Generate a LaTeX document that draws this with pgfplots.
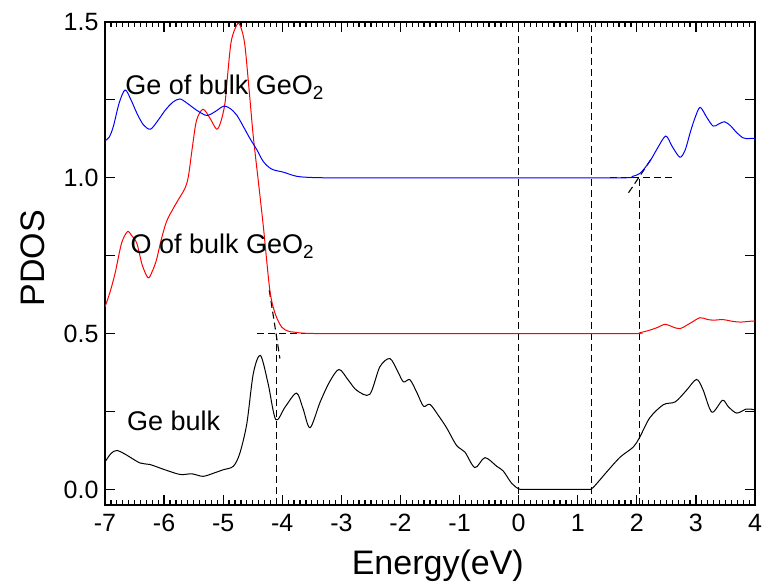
\documentclass[border=0pt]{standalone}
\usepackage{fontspec}
\setmainfont{Liberation Sans}
\usepackage{pgfplots}
\pgfplotsset{compat=1.18}
\begin{document}
\begin{tikzpicture}[x=1pt,y=1pt]
\path[use as bounding box] (0,0) rectangle (763,583);
\begin{axis}[
 at={(105pt,78pt)}, anchor=south west,
 scale only axis, width=650pt, height=483pt,
 xmin=-7, xmax=4, ymin=-0.05, ymax=1.5,
 xtick={-7,-6,-5,-4,-3,-2,-1,0,1,2,3,4},
 xticklabels={-7,-6,-5,-4,-3,-2,-1,0,1,2,3,4},
 minor x tick num=9,
 ytick={0,0.5,1,1.5}, yticklabels={0.0,0.5,1.0,1.5},
 extra y ticks={0.25,0.75,1.25}, extra y tick labels={},
 tick align=inside, major tick length=10pt, minor tick length=5pt,
 axis line style={line width=1.6pt},
 every tick/.style={black, line width=1.2pt},
 /pgf/number format/assume math mode=true,
 tick label style={font=\fontsize{25}{28}\selectfont},
 xticklabel style={yshift=-6pt},
 yticklabel style={xshift=-3pt},
 xlabel={Energy(eV)}, ylabel={PDOS},
 xlabel style={at={(axis description cs:0.512,-0.126)}, anchor=center, font=\fontsize{34}{40}\selectfont},
 ylabel style={at={(axis description cs:-0.111,0.511)}, anchor=center, font=\fontsize{34}{40}\selectfont},
]
% dashed guide lines
\addplot[black, line width=1.1pt, dash pattern=on 7pt off 4pt] coordinates {(0,-0.05) (0,1.5)};
\addplot[black, line width=1.1pt, dash pattern=on 7pt off 4pt] coordinates {(1.24,-0.05) (1.24,1.5)};
\addplot[black, line width=1.1pt, dash pattern=on 7pt off 4pt] coordinates {(-4.10,-0.05) (-4.10,0.5)};
\addplot[black, line width=1.1pt, dash pattern=on 7pt off 4pt] coordinates {(-4.43,0.5) (-3.36,0.5)};
\addplot[black, line width=1.1pt, dash pattern=on 7pt off 4pt] coordinates {(-4.22,0.64) (-4.04,0.42)};
\addplot[black, line width=1.1pt, dash pattern=on 7pt off 4pt] coordinates {(2.05,-0.05) (2.05,1.0)};
\addplot[black, line width=1.1pt, dash pattern=on 7pt off 4pt] coordinates {(1.55,1.0) (2.59,1.0)};
\addplot[black, line width=1.1pt, dash pattern=on 7pt off 4pt] coordinates {(1.86,0.952) (2.25,1.062)};
% Ge bulk
\addplot[black, line width=1pt, smooth, tension=0.5] coordinates {
(-7.00,0.088) (-6.90,0.115) (-6.80,0.125) (-6.65,0.112) (-6.41,0.085) (-6.24,0.080) (-6.00,0.064) (-5.73,0.048) (-5.53,0.050) (-5.34,0.042) (-5.15,0.053) (-5.00,0.063) (-4.83,0.074) (-4.72,0.115) (-4.60,0.211) (-4.49,0.372) (-4.37,0.430) (-4.24,0.34) (-4.11,0.224) (-3.95,0.265) (-3.76,0.309) (-3.65,0.26) (-3.53,0.198) (-3.36,0.28) (-3.20,0.345) (-3.04,0.385) (-2.88,0.350) (-2.74,0.318) (-2.52,0.305) (-2.35,0.393) (-2.18,0.42) (-2.05,0.38) (-1.95,0.345) (-1.84,0.352) (-1.72,0.31) (-1.61,0.267) (-1.50,0.273) (-1.35,0.235) (-1.22,0.198) (-1.05,0.141) (-0.91,0.120) (-0.74,0.070) (-0.57,0.102) (-0.37,0.074) (-0.26,0.059) (-0.12,0.020) (0.0,0.002) (0.1,0) (0.6,0) (1.15,0) (1.24,0.003) (1.35,0.025) (1.49,0.056) (1.72,0.104) (1.94,0.136) (2.05,0.168) (2.22,0.230) (2.45,0.272) (2.65,0.281) (2.84,0.318) (3.01,0.353) (3.12,0.32) (3.27,0.248) (3.45,0.286) (3.55,0.265) (3.69,0.245) (3.85,0.258) (3.92,0.258) (4.0,0.255)};
% O of bulk GeO2
\addplot[red, line width=1pt, smooth, tension=0.5] coordinates {
(-7.00,0.586) (-6.92,0.63) (-6.83,0.693) (-6.72,0.79) (-6.62,0.827) (-6.55,0.815) (-6.46,0.789) (-6.37,0.72) (-6.27,0.679) (-6.20,0.70) (-6.13,0.736) (-6.05,0.80) (-5.96,0.859) (-5.85,0.90) (-5.73,0.939) (-5.65,0.965) (-5.59,1.003) (-5.52,1.10) (-5.45,1.185) (-5.34,1.220) (-5.22,1.19) (-5.11,1.156) (-5.04,1.18) (-4.97,1.239) (-4.92,1.34) (-4.86,1.442) (-4.75,1.496) (-4.68,1.47) (-4.63,1.421) (-4.56,1.28) (-4.49,1.132) (-4.40,0.98) (-4.32,0.843) (-4.21,0.639) (-4.12,0.564) (-4.01,0.521) (-3.90,0.508) (-3.81,0.505) (-3.6,0.501) (-3.0,0.5) (0.0,0.5) (1.9,0.5) (2.05,0.503) (2.2,0.510) (2.34,0.519) (2.48,0.530) (2.60,0.522) (2.73,0.516) (2.90,0.533) (3.07,0.551) (3.20,0.545) (3.29,0.543) (3.46,0.545) (3.60,0.540) (3.75,0.537) (3.94,0.540) (4.0,0.54)};
% Ge of bulk GeO2
\addplot[blue, line width=1pt, smooth, tension=0.5] coordinates {
(-7.00,1.119) (-6.93,1.13) (-6.86,1.164) (-6.76,1.24) (-6.66,1.282) (-6.56,1.25) (-6.46,1.207) (-6.35,1.17) (-6.23,1.156) (-6.10,1.185) (-5.98,1.217) (-5.85,1.243) (-5.73,1.253) (-5.60,1.238) (-5.45,1.217) (-5.28,1.200) (-5.14,1.212) (-4.99,1.230) (-4.88,1.222) (-4.77,1.201) (-4.66,1.165) (-4.55,1.127) (-4.43,1.09) (-4.32,1.052) (-4.18,1.028) (-3.98,1.018) (-3.76,1.005) (-3.5,1.001) (-3.0,1.0) (0.0,1.0) (1.77,1.0) (1.92,1.004) (2.05,1.014) (2.15,1.035) (2.25,1.062) (2.35,1.095) (2.49,1.134) (2.60,1.10) (2.73,1.066) (2.82,1.09) (2.90,1.143) (2.98,1.19) (3.07,1.226) (3.18,1.195) (3.29,1.166) (3.38,1.172) (3.48,1.180) (3.58,1.168) (3.69,1.145) (3.80,1.128) (3.90,1.126) (4.00,1.127)};
\node[anchor=base west, inner sep=0pt, font=\fontsize{27}{30}\selectfont] at (axis cs:-6.66,1.266) {Ge of bulk GeO\textsubscript{2}};
\node[anchor=base west, inner sep=0pt, font=\fontsize{27}{30}\selectfont] at (axis cs:-6.57,0.757) {O of bulk GeO\textsubscript{2}};
\node[anchor=base west, inner sep=0pt, font=\fontsize{27}{30}\selectfont] at (axis cs:-6.63,0.19) {Ge bulk};
\end{axis}
\end{tikzpicture}
\end{document}
